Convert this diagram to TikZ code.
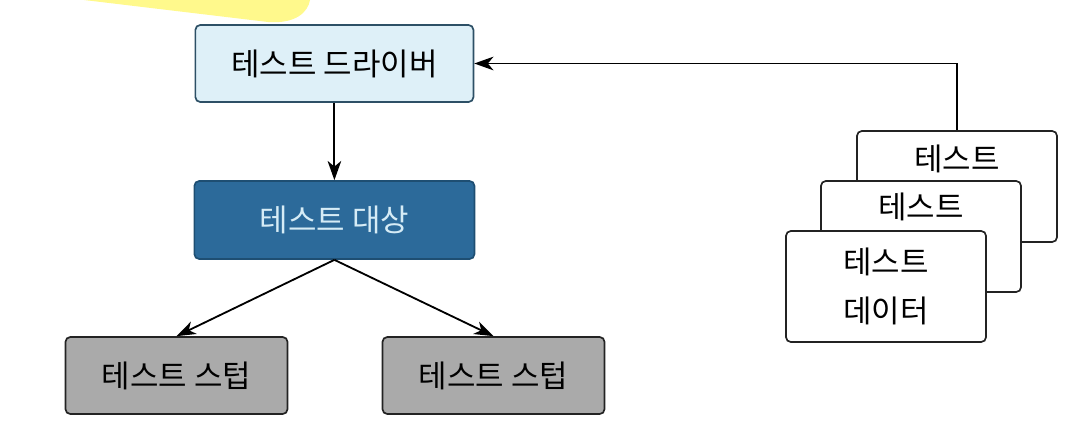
\documentclass[tikz,border=0pt]{standalone}
\usepackage{fontspec}
\setmainfont{Noto Sans CJK KR}
\usetikzlibrary{arrows.meta, positioning}
\tikzset{>={Stealth[length=4.8mm, width=3.4mm, inset=1.4mm]}}
\definecolor{markyellow}{RGB}{255,249,140}
\definecolor{driverfill}{RGB}{222,240,248}
\definecolor{driverline}{RGB}{45,80,102}
\definecolor{targetfill}{RGB}{44,106,154}
\definecolor{targetline}{RGB}{30,78,114}
\definecolor{targettext}{RGB}{214,236,246}
\definecolor{stubfill}{RGB}{170,170,170}
\definecolor{boxline}{RGB}{35,35,35}
\tikzset{
	box/.style={shape=rectangle, draw, line width=1.2pt, rounded corners=0.12cm, font=\fontsize{22}{26}\selectfont},
	drivbox/.style={box, fill=driverfill, draw=driverline, minimum width=6.95cm, minimum height=1.925cm},
	targbox/.style={box, fill=targetfill, draw=targetline, text=targettext, minimum width=7cm, minimum height=1.95cm},
	stubbox/.style={box, fill=stubfill, draw=boxline, minimum width=5.55cm, minimum height=1.925cm},
	card/.style={box, fill=white, draw=boxline, minimum width=5cm, minimum height=2.775cm},
	cardtext/.style={font=\fontsize{22}{26}\selectfont, inner sep=0pt},
	wire/.style={line width=1.3pt, ->}
}

\begin{document}
\begin{tikzpicture}
	\useasboundingbox (0,0) rectangle (26.8,-11.05);
	% highlighter mark
	\fill[markyellow] (2.1,0) -- (6.7,-0.55) .. controls (7.4,-0.6) and (7.7,-0.3) .. (7.75,0) -- cycle;
	% Boxes on the left:
	\node[drivbox] (driver) at (8.36,-1.5875){테스트 드라이버};
	\node[targbox] (target) at (8.36,-5.5){테스트 대상};
	\node[stubbox] (stubL) at (4.4125,-9.3875){테스트 스텁};
	\node[stubbox] (stubR) at (12.3375,-9.3875){테스트 스텁};
	% Stack of test data cards:
	\node[card] (cardA) at (23.925,-4.6625){};
	\node[cardtext] (cardAtext) at ([yshift=-0.72cm]cardA.north){테스트};
	\node[card] (cardB) at (23.025,-5.9125){};
	\node[cardtext] (cardBtext) at ([yshift=-0.68cm]cardB.north){테스트};
	\node[card, align=center, font=\fontsize{22}{35}\selectfont] (cardC) at (22.15,-7.1625){테스트\\데이터};
	% Connectors:
	\draw[wire] (driver) -- (target);
	\draw[wire] (target.south) -- (stubL.north);
	\draw[wire] (target.south) -- (stubR.north);
	\draw[wire] (cardA.north) |- (driver.east);
\end{tikzpicture}
\end{document}
